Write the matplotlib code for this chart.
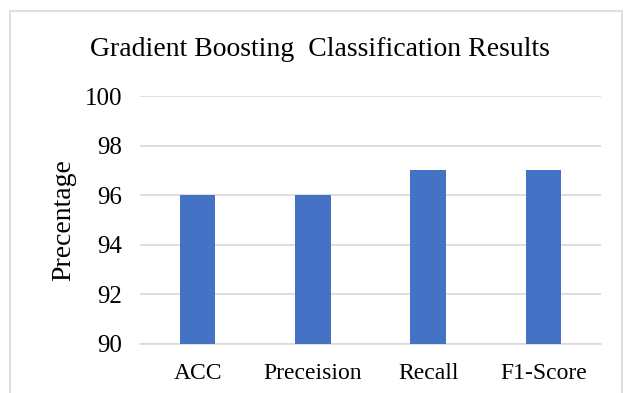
import matplotlib
matplotlib.use("Agg")
import matplotlib.pyplot as plt
from matplotlib.patches import Rectangle

categories = ["ACC", "Preceision", "Recall", "F1-Score"]
values = [96, 96, 97, 97]
y_ticks = [90, 92, 94, 96, 98, 100]

plt.rcParams['font.family'] = ['Liberation Serif', 'DejaVu Serif']

fig = plt.figure(figsize=(6.32, 3.93), dpi=100)
ax = fig.add_axes([0.2215, 0.1247, 0.7295, 0.631])

grid_color = "#d9d9d9"
ax.bar(range(len(categories)), [v - 90 for v in values], bottom=90,
       width=0.31, color="#4472C4", zorder=3)
ax.set_xlim(-0.5, len(categories) - 0.5)
ax.set_ylim(90, 100)
ax.set_yticks(y_ticks)
ax.set_yticklabels([str(t) for t in y_ticks], fontsize=18)
ax.set_xticks(range(len(categories)))
ax.set_xticklabels(categories, fontsize=17)
ax.tick_params(length=0)
ax.tick_params(axis='y', pad=13)
ax.tick_params(axis='x', pad=14)
ax.grid(axis='y', color=grid_color, linewidth=1.2, zorder=0)
for s in ["top", "right", "left"]:
    ax.spines[s].set_visible(False)
ax.spines["bottom"].set_color(grid_color)
ax.spines["bottom"].set_linewidth(1.2)

ax.set_ylabel("Precentage", fontsize=20, labelpad=6)
fig.text(0.507, 0.875, "Gradient Boosting  Classification Results",
         ha="center", va="center", fontsize=20)

# chart frame
fig.patches.append(Rectangle((10 / 632, -0.01), 612 / 632, 1 - 11 / 393 + 0.01,
                             transform=fig.transFigure, fill=False,
                             edgecolor=grid_color, linewidth=1.2))

fig.savefig("out.png", dpi=100)
